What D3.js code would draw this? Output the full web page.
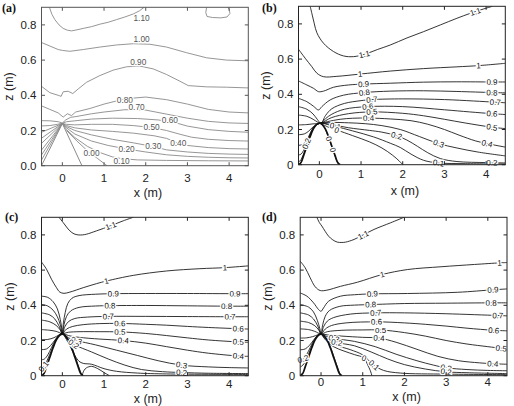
<!DOCTYPE html>
<html>
<head>
<meta charset="utf-8">
<script src="https://cdn.jsdelivr.net/npm/d3@7"></script>
<style>
  body { margin: 0; background: #fff; }
</style>
</head>
<body>
<svg id="fig" width="514" height="406" font-family="'Liberation Sans', Arial, sans-serif"></svg>
<script>
// ---- data: [x (m), z (m)] ----
var xTicks = [0, 1, 2, 3, 4];
var zTicks = [0, 0.2, 0.4, 0.6, 0.8];

var hillA = [[-0.5,0],[0,0.24],[0.47,0]];
var hill = [[-0.5,0],[-0.44,0.012],[-0.38,0.05],[-0.3,0.105],[-0.22,0.16],[-0.14,0.205],[-0.07,0.228],[0,0.236],
            [0.07,0.228],[0.14,0.205],[0.22,0.16],[0.3,0.105],[0.38,0.05],[0.44,0.012],[0.5,0]];

// (a)
var linesA = [
  [[-0.31,0.9],[-0.25,0.86],[-0.18,0.83],[-0.08,0.8],[0.02,0.78],[0.12,0.77],[0.22,0.766],[0.35,0.772],[0.5,0.78],[0.7,0.79],[0.9,0.804],[1.1,0.815],[1.3,0.83],[1.5,0.845],[1.7,0.862],[1.85,0.88],[1.96,0.9]],
  [[3.46,0.9],[3.44,0.87],[3.47,0.848],[3.6,0.842],[3.8,0.84],[3.95,0.845],[4.02,0.865],[4.0,0.89],[3.96,0.9]],
  [[-0.5,0.7],[-0.3,0.68],[-0.1,0.66],[0,0.655],[0.18,0.65],[0.5,0.66],[0.9,0.674],[1.3,0.686],[1.7,0.693],[2.1,0.69],[2.5,0.674],[2.98,0.642],[3.46,0.613],[3.94,0.6],[4.46,0.596]],
  [[-0.5,0.451],[-0.3,0.415],[-0.1,0.4],[-0.03,0.394],[0.02,0.42],[0.14,0.423],[0.25,0.41],[0.38,0.436],[0.58,0.474],[0.9,0.512],[1.22,0.543],[1.54,0.562],[1.86,0.566],[2.18,0.55],[2.5,0.518],[2.82,0.48],[3.02,0.455],[3.46,0.448],[3.94,0.446],[4.46,0.442]],
  [[-0.5,0.34],[-0.3,0.32],[-0.1,0.3],[0.02,0.276],[0.12,0.295],[0.22,0.285],[0.32,0.305],[0.66,0.325],[1.0,0.35],[1.5,0.38],[2.0,0.39],[2.5,0.375],[3.0,0.35],[3.5,0.32],[4.0,0.305],[4.46,0.3]],
  [[-0.5,0.256],[-0.3,0.255],[-0.1,0.25],[0,0.242],[0.08,0.26],[0.2,0.275],[0.35,0.28],[0.7,0.295],[1.0,0.305],[1.5,0.318],[2.0,0.316],[2.5,0.293],[3.0,0.27],[3.5,0.252],[4.0,0.243],[4.46,0.24]],
  [[-0.5,0.226],[-0.3,0.228],[-0.12,0.235],[0,0.241],[0.1,0.25],[0.3,0.255],[0.7,0.265],[1.2,0.27],[1.8,0.268],[2.3,0.26],[2.7,0.245],[3.0,0.225],[3.5,0.205],[4.0,0.195],[4.46,0.19]],
  [[-0.5,0.19],[-0.25,0.215],[0,0.24],[0.1,0.235],[0.3,0.232],[0.7,0.235],[1.2,0.235],[1.7,0.228],[2.14,0.217],[2.5,0.2],[2.8,0.18],[3.1,0.162],[3.5,0.15],[4.0,0.143],[4.46,0.14]],
  [[-0.5,0.156],[-0.25,0.198],[0,0.24],[0.1,0.228],[0.3,0.215],[0.7,0.203],[1.2,0.195],[1.7,0.185],[2.2,0.17],[2.5,0.155],[2.78,0.128],[3.0,0.115],[3.5,0.103],[4.0,0.097],[4.46,0.095]],
  [[-0.5,0.127],[-0.25,0.183],[0,0.24],[0.1,0.222],[0.3,0.2],[0.7,0.175],[1.2,0.15],[1.7,0.13],[2.18,0.109],[2.5,0.09],[3.0,0.078],[3.5,0.07],[4.0,0.066],[4.46,0.064]],
  [[-0.5,0.089],[-0.25,0.164],[0,0.24],[0.1,0.215],[0.3,0.18],[0.7,0.14],[1.1,0.115],[1.54,0.095],[2.0,0.078],[2.5,0.062],[3.0,0.053],[3.5,0.048],[4.0,0.045],[4.46,0.044]],
  [[-0.5,0.061],[-0.25,0.15],[0,0.24],[0.1,0.205],[0.3,0.16],[0.6,0.11],[0.9,0.075],[1.2,0.05],[1.42,0.04],[1.8,0.033],[2.5,0.03],[3.5,0.028],[4.46,0.027]],
  [[-0.5,0.032],[-0.25,0.136],[0,0.24]],
  [[0.1,0.2],[0.35,0.14],[0.6,0.085],[0.85,0.04],[1.07,0]]
];
var labelsA = [["1.10",1.9,0.84],["1.00",1.9,0.72],["0.90",1.82,0.589],["0.80",1.5,0.371],["0.70",1.78,0.331],
  ["0.60",2.58,0.257],["0.50",2.14,0.217],["0.40",2.78,0.128],["0.30",2.18,0.109],["0.20",1.54,0.095],
  ["0.10",1.42,0.029],["0.00",0.7,0.074]];

// (b)
var linesB = [
  [[-0.22,0.9],[-0.17,0.85],[-0.12,0.8],[-0.06,0.75],[0.1,0.69],[0.34,0.643],[0.58,0.618],[0.82,0.614],[1.08,0.627],[1.4,0.655],[1.7,0.68],[2.1,0.72],[2.5,0.756],[2.9,0.794],[3.3,0.832],[3.62,0.86],[3.9,0.882],[4.15,0.9]],
  [[-0.5,0.656],[-0.34,0.605],[-0.18,0.557],[-0.06,0.52],[0.1,0.5],[0.42,0.502],[0.98,0.515],[1.7,0.532],[2.5,0.546],[3.3,0.556],[3.82,0.563],[4.46,0.576]],
  [[-0.5,0.476],[-0.3,0.453],[-0.14,0.434],[-0.02,0.415],[0.1,0.418],[0.34,0.44],[0.7,0.453],[1.06,0.458],[1.7,0.463],[2.5,0.469],[3.3,0.471],[4.14,0.47],[4.46,0.47]],
  [[-0.5,0.377],[-0.3,0.358],[-0.14,0.332],[-0.02,0.311],[0.06,0.33],[0.26,0.368],[0.58,0.395],[1.08,0.41],[1.7,0.418],[2.5,0.42],[3.3,0.416],[4.14,0.41],[4.46,0.408]],
  [[-0.5,0.33],[-0.3,0.315],[-0.15,0.288],[-0.05,0.258],[0.04,0.236],[0.15,0.28],[0.3,0.318],[0.6,0.348],[1.0,0.364],[1.26,0.37],[2,0.374],[3,0.37],[3.7,0.362],[4.22,0.355],[4.46,0.352]],
  [[-0.5,0.282],[-0.3,0.275],[-0.15,0.258],[-0.04,0.242],[0.04,0.236],[0.15,0.262],[0.3,0.287],[0.6,0.315],[1.16,0.33],[2,0.33],[3,0.312],[3.6,0.3],[4.14,0.29],[4.46,0.285]],
  [[-0.5,0.226],[-0.3,0.228],[-0.15,0.232],[0.04,0.236],[0.15,0.25],[0.3,0.268],[0.7,0.29],[1.26,0.3],[2,0.292],[2.5,0.278],[3,0.258],[3.5,0.237],[4.14,0.213],[4.46,0.205]],
  [[-0.5,0.17],[-0.35,0.176],[-0.25,0.192],[-0.15,0.215],[-0.05,0.23],[0.04,0.236],[0.2,0.245],[0.5,0.258],[0.8,0.264],[1.18,0.265],[1.7,0.26],[2.2,0.25],[2.6,0.23],[3.0,0.2],[3.35,0.168],[3.75,0.135],[4.02,0.12],[4.46,0.1]],
  [[-0.5,0.11],[-0.4,0.115],[-0.32,0.132],[-0.25,0.162],[-0.15,0.207],[-0.05,0.229],[0.04,0.236],[0.3,0.24],[0.7,0.238],[1.1,0.233],[1.5,0.222],[1.94,0.2],[2.4,0.16],[2.86,0.12],[3.3,0.095],[3.8,0.072],[4.46,0.05]],
  [[-0.5,0.055],[-0.44,0.06],[-0.38,0.08],[-0.31,0.12],[-0.23,0.172],[-0.13,0.215],[-0.04,0.232],[0.04,0.236],[0.3,0.228],[0.7,0.21],[1.2,0.195],[1.5,0.185],[1.85,0.165],[2.1,0.14],[2.35,0.105],[2.6,0.068],[2.9,0.035],[3.3,0.018],[4.0,0.012],[4.46,0.01]],
  [[-0.5,0.017],[-0.46,0.022],[-0.42,0.038],[-0.36,0.072],[-0.28,0.128],[-0.2,0.178],[-0.1,0.222],[0.04,0.236],[0.2,0.228],[0.38,0.218],[0.8,0.192],[1.3,0.158],[1.7,0.122],[1.94,0.098],[2.2,0.06],[2.5,0.025],[2.86,0.01],[3.5,0.006],[4.46,0.004]],
  [[0.04,0.234],[0.2,0.215],[0.42,0.197],[0.8,0.165],[1.2,0.13],[1.5,0.095],[1.75,0.055],[1.92,0.02],[2.0,0]],
  [[0.04,0.234],[0.12,0.212],[0.2,0.168],[0.28,0.115],[0.36,0.06],[0.42,0.022],[0.47,0]]
];
var labelsB = [["1.1",1.08,0.627],["1.1",3.74,0.87],["1",0.98,0.515],["1",3.82,0.563],["0.9",1.06,0.458],["0.9",4.14,0.47],
  ["0.8",1.08,0.41],["0.8",4.14,0.41],["0.7",1.26,0.37],["0.7",4.22,0.355],["0.6",1.16,0.33],["0.6",4.14,0.29],
  ["0.5",1.26,0.3],["0.5",4.14,0.213],["0.4",1.18,0.265],["0.4",4.02,0.12],["0.3",2.86,0.12],["0.2",1.85,0.165],
  ["0.2",4.14,0.011],["0.1",0.38,0.218],["0.1",2.86,0.01],["0",0.42,0.197],["0",0.25,0.15],["0",0.33,0.085],["0.2",-0.31,0.12]];

// (c)
var linesC = [
  [[-0.08,0.9],[0.02,0.87],[0.1,0.845],[0.18,0.823],[0.28,0.806],[0.38,0.8],[0.48,0.8],[0.58,0.804],[0.82,0.823],[1.16,0.852],[1.46,0.88],[1.7,0.9]],
  [[-0.5,0.646],[-0.38,0.605],[-0.26,0.548],[-0.14,0.5],[-0.06,0.475],[0.04,0.468],[0.18,0.475],[0.5,0.5],[0.82,0.523],[1.06,0.538],[1.7,0.57],[2.5,0.595],[3.3,0.608],[3.9,0.614],[4.46,0.624]],
  [[-0.5,0.452],[-0.35,0.445],[-0.22,0.42],[-0.12,0.38],[-0.05,0.32],[-0.015,0.27],[0,0.24],[0.025,0.3],[0.07,0.36],[0.13,0.41],[0.23,0.44],[0.4,0.455],[0.8,0.463],[1.22,0.466],[2,0.467],[3,0.467],[4.14,0.466],[4.46,0.466]],
  [[-0.5,0.405],[-0.35,0.396],[-0.22,0.372],[-0.12,0.335],[-0.05,0.29],[0,0.24],[0.04,0.29],[0.1,0.337],[0.2,0.368],[0.4,0.388],[0.8,0.396],[1.14,0.398],[2,0.399],[3,0.397],[3.94,0.395],[4.46,0.395]],
  [[-0.5,0.357],[-0.3,0.345],[-0.18,0.322],[-0.08,0.283],[0,0.24],[0.06,0.278],[0.15,0.308],[0.3,0.325],[0.6,0.333],[1.1,0.337],[2,0.337],[3,0.336],[4.02,0.335],[4.46,0.335]],
  [[-0.5,0.316],[-0.3,0.306],[-0.15,0.286],[-0.05,0.26],[0,0.24],[0.1,0.265],[0.25,0.28],[0.5,0.29],[0.9,0.296],[1.38,0.297],[2,0.292],[2.5,0.287],[3,0.28],[3.5,0.274],[4.22,0.267],[4.46,0.265]],
  [[-0.5,0.262],[-0.3,0.258],[-0.15,0.252],[0,0.24],[0.15,0.247],[0.4,0.25],[0.9,0.25],[1.38,0.249],[2,0.24],[2.5,0.228],[3,0.215],[3.5,0.203],[4.22,0.192],[4.46,0.19]],
  [[-0.5,0.205],[-0.35,0.206],[-0.2,0.216],[-0.08,0.232],[0,0.24],[0.15,0.228],[0.4,0.218],[0.9,0.208],[1.46,0.2],[2,0.185],[2.5,0.165],[3,0.145],[3.5,0.128],[4.22,0.112],[4.46,0.11]],
  [[-0.5,0.148],[-0.38,0.152],[-0.28,0.172],[-0.18,0.202],[-0.08,0.23],[0,0.24],[0.15,0.215],[0.34,0.2],[0.8,0.175],[1.3,0.145],[1.8,0.115],[2.3,0.085],[2.86,0.06],[3.5,0.05],[4,0.046],[4.46,0.044]],
  [[-0.5,0.09],[-0.43,0.095],[-0.35,0.118],[-0.26,0.16],[-0.16,0.205],[-0.06,0.234],[0,0.24],[0.12,0.205],[0.3,0.175],[0.7,0.135],[1.1,0.095],[1.5,0.06],[1.9,0.035],[2.4,0.023],[2.86,0.018],[3.5,0.014],[4.46,0.012]],
  [[-0.5,0.045],[-0.46,0.05],[-0.41,0.065],[-0.34,0.1],[-0.26,0.145],[-0.17,0.195],[-0.07,0.232],[0,0.24],[0.1,0.205],[0.2,0.16],[0.3,0.115],[0.4,0.082],[0.5,0.07],[0.7,0.065],[1.0,0.04],[1.3,0.025],[1.8,0.015],[2.5,0.01],[4.46,0.007]],
  [[0.02,0.236],[0.08,0.222],[0.16,0.2],[0.24,0.155],[0.32,0.1],[0.4,0.045],[0.45,0.012],[0.47,0]],
  [[0.47,0],[0.52,0.03],[0.58,0.045],[0.7,0.053],[0.85,0.04],[1.0,0.018],[1.1,0.004],[1.13,0]]
];
var labelsC = [["1.1",1.16,0.852],["1",1.06,0.538],["1",3.9,0.614],["0.9",1.22,0.466],["0.9",4.14,0.466],
  ["0.8",1.14,0.398],["0.8",3.94,0.395],["0.7",1.1,0.337],["0.7",4.02,0.335],["0.6",1.38,0.297],["0.6",4.22,0.267],
  ["0.5",1.38,0.249],["0.5",4.22,0.192],["0.4",1.46,0.2],["0.4",4.22,0.112],["0.3",0.34,0.2],["0.3",2.86,0.06],
  ["0.2",2.86,0.018],["0.2",0.27,0.178],["0.1",-0.45,0.052]];

// (d)
var linesD = [
  [[-0.1,0.9],[-0.04,0.87],[0.02,0.85],[0.1,0.82],[0.18,0.793],[0.28,0.772],[0.39,0.759],[0.5,0.757],[0.59,0.759],[0.79,0.774],[1.01,0.8],[1.27,0.831],[1.67,0.869],[1.99,0.9]],
  [[-0.5,0.651],[-0.38,0.613],[-0.26,0.556],[-0.14,0.505],[-0.02,0.484],[0.14,0.486],[0.47,0.508],[0.87,0.531],[1.47,0.575],[2.07,0.603],[2.88,0.619],[3.68,0.632],[4.28,0.641],[4.46,0.643]],
  [[-0.5,0.47],[-0.34,0.452],[-0.18,0.414],[-0.06,0.376],[0,0.366],[0.06,0.385],[0.18,0.423],[0.47,0.452],[0.8,0.46],[1.23,0.465],[2.07,0.467],[3.28,0.474],[4.12,0.488],[4.46,0.493]],
  [[-0.5,0.404],[-0.3,0.39],[-0.18,0.362],[-0.09,0.315],[-0.03,0.268],[0,0.237],[0.04,0.29],[0.1,0.337],[0.2,0.37],[0.45,0.394],[0.8,0.401],[1.19,0.404],[2,0.41],[3,0.412],[4.08,0.414],[4.46,0.414]],
  [[-0.5,0.357],[-0.3,0.345],[-0.18,0.322],[-0.08,0.283],[0,0.237],[0.06,0.278],[0.15,0.31],[0.3,0.33],[0.7,0.35],[1.31,0.357],[2,0.357],[3,0.352],[4.24,0.342],[4.46,0.34]],
  [[-0.5,0.31],[-0.3,0.302],[-0.15,0.284],[-0.05,0.258],[0,0.237],[0.1,0.265],[0.25,0.285],[0.6,0.3],[1.33,0.306],[2,0.3],[2.5,0.292],[3,0.282],[3.5,0.27],[4.14,0.258],[4.46,0.255]],
  [[-0.5,0.266],[-0.3,0.262],[-0.15,0.252],[0,0.237],[0.15,0.25],[0.5,0.258],[1.0,0.26],[1.43,0.26],[2,0.245],[2.5,0.225],[3,0.2],[3.5,0.18],[4,0.165],[4.32,0.156],[4.46,0.153]],
  [[-0.5,0.214],[-0.35,0.215],[-0.2,0.222],[-0.08,0.232],[0,0.237],[0.15,0.232],[0.5,0.225],[1.0,0.218],[1.39,0.214],[1.8,0.19],[2.3,0.15],[2.8,0.11],[3.3,0.085],[3.8,0.073],[4.12,0.068],[4.46,0.065]],
  [[-0.5,0.147],[-0.38,0.152],[-0.28,0.172],[-0.18,0.202],[-0.08,0.23],[0,0.237],[0.15,0.222],[0.31,0.212],[0.8,0.195],[1.3,0.165],[1.8,0.122],[2.3,0.085],[2.7,0.06],[3.0,0.045],[3.5,0.035],[4.0,0.03],[4.46,0.028]],
  [[-0.5,0.09],[-0.43,0.095],[-0.35,0.118],[-0.26,0.16],[-0.16,0.205],[-0.06,0.234],[0,0.237],[0.12,0.212],[0.35,0.19],[0.8,0.17],[1.2,0.135],[1.6,0.095],[2,0.063],[2.5,0.038],[3,0.022],[3.5,0.017],[4.46,0.012]],
  [[-0.5,0.05],[-0.46,0.055],[-0.41,0.068],[-0.34,0.1],[-0.26,0.145],[-0.17,0.195],[-0.07,0.232],[0,0.237],[0.1,0.21],[0.3,0.178],[0.7,0.148],[1.0,0.118],[1.27,0.06],[1.5,0.03],[1.9,0.015],[3,0.009],[4.46,0.006]],
  [[0.02,0.232],[0.12,0.2],[0.3,0.165],[0.55,0.14],[0.8,0.12],[1.03,0.1],[1.12,0.06],[1.18,0.03],[1.22,0]],
  [[0.06,0.228],[0.14,0.205],[0.24,0.155],[0.32,0.1],[0.4,0.045],[0.45,0.012],[0.47,0]]
];
var labelsD = [["1.1",1.01,0.8],["1",1.47,0.575],["1",4.28,0.641],["0.9",1.23,0.465],["0.9",4.12,0.488],
  ["0.8",1.19,0.404],["0.8",4.08,0.414],["0.7",1.31,0.357],["0.7",4.24,0.342],["0.6",1.33,0.306],["0.6",4.14,0.258],
  ["0.5",1.43,0.26],["0.5",4.32,0.156],["0.4",1.39,0.214],["0.4",4.12,0.068],["0.3",0.31,0.212],["0.3",3.0,0.045],
  ["0.2",3.0,0.022],["0.2",0.38,0.19],["0",1.03,0.1],["0.1",1.27,0.06],["0.2",-0.43,0.095]];

// ---- layout ----
var W = 206.8, H = 158.4;
var fmtBCD = function(d) { return d === 0 ? "0" : d3.format(".1f")(d); };
var panels = [
  {tag:"(a)", tx:41.5,  ty:7.3,   lines:linesA, labels:labelsA, hill:hillA, fmt:d3.format(".1f"),
   stroke:"#8a8a8a", textCol:"#555", frame:"#555", smooth:false, tagX:2, tagY:11.5, xl:16, xt:31, zt:-29},
  {tag:"(b)", tx:298.5, ty:6.3,   lines:linesB, labels:labelsB, hill:hill, fmt:fmtBCD,
   stroke:"#111", textCol:"#111", frame:"#222", smooth:true, tagX:262, tagY:11.5, xl:13.5, xt:30, zt:-29},
  {tag:"(c)", tx:41.5,  ty:217.3, lines:linesC, labels:labelsC, hill:hill, fmt:fmtBCD,
   stroke:"#111", textCol:"#111", frame:"#222", smooth:true, tagX:5, tagY:221, xl:12.5, xt:27.5, zt:-27.5},
  {tag:"(d)", tx:300.2, ty:217.3, lines:linesD, labels:labelsD, hill:hill, fmt:fmtBCD,
   stroke:"#111", textCol:"#111", frame:"#222", smooth:true, tagX:262, tagY:221, xl:10.5, xt:25, zt:-28.5}
];

var svg = d3.select("#fig");

function nearestOnLines(linesPx, px, py) {
  var best = {d: Infinity, x: px, y: py, a: 0};
  linesPx.forEach(function(pts) {
    for (var i = 0; i < pts.length - 1; i++) {
      var x1 = pts[i][0], y1 = pts[i][1], x2 = pts[i+1][0], y2 = pts[i+1][1];
      var dx = x2 - x1, dy = y2 - y1, L = dx*dx + dy*dy;
      var t = L ? Math.max(0, Math.min(1, ((px-x1)*dx + (py-y1)*dy) / L)) : 0;
      var qx = x1 + t*dx, qy = y1 + t*dy;
      var d = (qx-px)*(qx-px) + (qy-py)*(qy-py);
      if (d < best.d) {
        var a = Math.atan2(dy, dx) * 180 / Math.PI;
        if (a > 90) a -= 180;
        if (a < -90) a += 180;
        best = {d: d, x: qx, y: qy, a: a};
      }
    }
  });
  return best;
}

panels.forEach(function(p, k) {
  var x = d3.scaleLinear().domain([-0.5, 4.46]).range([0, W]);
  var z = d3.scaleLinear().domain([0, 0.9]).range([H, 0]);

  var g = svg.append("g").attr("transform", "translate(" + p.tx + "," + p.ty + ")");

  g.append("clipPath").attr("id", "clip" + k)
    .append("rect").attr("width", W).attr("height", H);

  var line = d3.line()
    .x(function(d) { return x(d[0]); })
    .y(function(d) { return z(d[1]); })
    .curve(p.smooth ? d3.curveCatmullRom.alpha(0.5) : d3.curveLinear);

  var plot = g.append("g").attr("clip-path", "url(#clip" + k + ")");

  plot.selectAll("path.contour")
    .data(p.lines)
    .enter().append("path")
      .attr("class", "contour")
      .attr("d", line)
      .attr("fill", "none")
      .attr("stroke", p.stroke)
      .attr("stroke-width", p.smooth ? 0.85 : 0.9);

  // the hill
  plot.append("path")
    .datum(p.hill)
    .attr("d", line)
    .attr("fill", "none")
    .attr("stroke", p.stroke)
    .attr("stroke-width", p.smooth ? 1.7 : 1);

  // contour labels
  var linesPx = p.lines.map(function(l) { return l.map(function(d) { return [x(d[0]), z(d[1])]; }); });
  p.labels.forEach(function(l) {
    var pos = p.smooth ? nearestOnLines(linesPx, x(l[1]), z(l[2])) : {x: x(l[1]), y: z(l[2]), a: 0};
    g.append("text")
      .attr("transform", "translate(" + pos.x + "," + pos.y + ") rotate(" + pos.a + ")")
      .attr("text-anchor", "middle")
      .attr("dy", "0.35em")
      .attr("font-size", p.smooth ? 8 : 8.3)
      .attr("fill", p.textCol)
      .attr("stroke", "#fff")
      .attr("stroke-width", 2.6)
      .attr("paint-order", "stroke")
      .text(l[0]);
  });

  // frame and inward ticks on all sides
  g.append("rect").attr("width", W).attr("height", H)
    .attr("fill", "none").attr("stroke", p.frame).attr("stroke-width", 1);

  var tl = 3.5;
  g.selectAll("line.xt").data(xTicks).enter().append("line")
    .attr("x1", function(d){return x(d);}).attr("x2", function(d){return x(d);})
    .attr("y1", H).attr("y2", H - tl).attr("stroke", p.frame);
  g.selectAll("line.xtt").data(xTicks).enter().append("line")
    .attr("x1", function(d){return x(d);}).attr("x2", function(d){return x(d);})
    .attr("y1", 0).attr("y2", tl).attr("stroke", p.frame);
  g.selectAll("line.zt").data(zTicks).enter().append("line")
    .attr("y1", function(d){return z(d);}).attr("y2", function(d){return z(d);})
    .attr("x1", 0).attr("x2", tl).attr("stroke", p.frame);
  g.selectAll("line.ztr").data(zTicks).enter().append("line")
    .attr("y1", function(d){return z(d);}).attr("y2", function(d){return z(d);})
    .attr("x1", W).attr("x2", W - tl).attr("stroke", p.frame);

  // tick labels
  g.selectAll("text.xl").data(xTicks).enter().append("text")
    .attr("x", function(d){return x(d);}).attr("y", H + p.xl)
    .attr("text-anchor", "middle").attr("font-size", 11.5).attr("fill", "#222")
    .text(function(d){return d;});
  g.selectAll("text.zl").data(zTicks).enter().append("text")
    .attr("x", -5).attr("y", function(d){return z(d);}).attr("dy", "0.36em")
    .attr("text-anchor", "end").attr("font-size", 11.5).attr("fill", "#222")
    .text(p.fmt);

  // axis titles
  g.append("text").attr("x", W/2 + 3).attr("y", H + p.xt)
    .attr("text-anchor", "middle").attr("font-size", 12.5).attr("fill", "#222")
    .text("x (m)");
  g.append("text")
    .attr("transform", "translate(" + p.zt + "," + (H/2) + ") rotate(-90)")
    .attr("text-anchor", "middle").attr("font-size", 12.5).attr("fill", "#222")
    .text("z (m)");

  // panel tag
  svg.append("text").attr("x", p.tagX).attr("y", p.tagY)
    .style("font-family", "'Liberation Serif', 'Times New Roman', serif")
    .attr("font-weight", "bold").attr("font-size", 12).attr("fill", "#111")
    .text(p.tag);
});
</script>
</body>
</html>
